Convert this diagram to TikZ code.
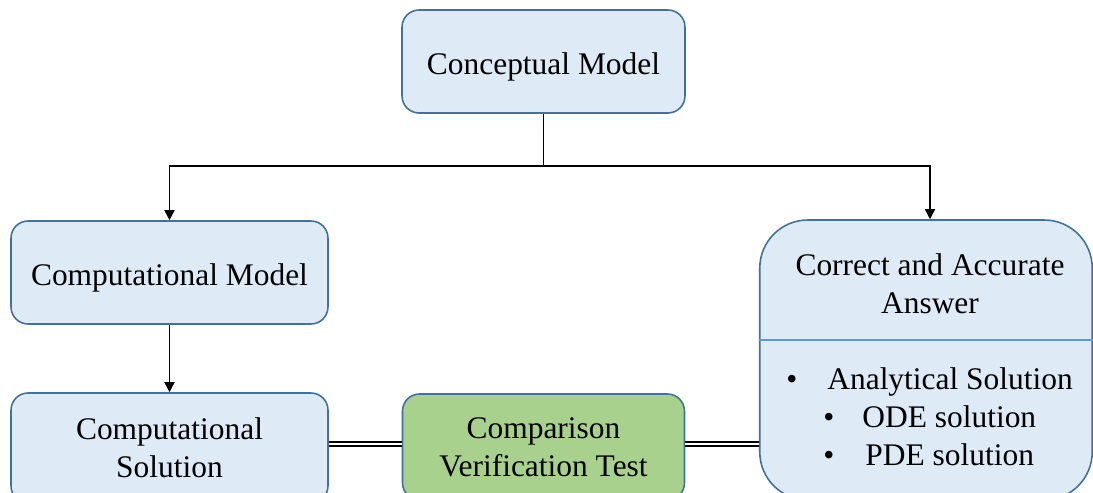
\documentclass[tikz,border=0pt]{standalone}
\usepackage{fontspec}
\setmainfont{Liberation Serif}
\usetikzlibrary{arrows.meta}
\definecolor{boxfill}{HTML}{DEEBF7}
\definecolor{boxline}{HTML}{41719C}
\definecolor{greenfill}{HTML}{A9D18E}
\definecolor{divline}{HTML}{5B9BD5}
\begin{document}
\begin{tikzpicture}[x=0.02cm,y=-0.02cm,
  box/.style={draw=boxline, line width=0.9pt, fill=boxfill, rounded corners=0.34cm,
    inner sep=0pt, align=center, font=\fontsize{17.9}{21.6}\selectfont},
  oneline/.style={text height=0.51cm, text depth=0cm},
  txt/.style={inner sep=0pt, font=\fontsize{17.9}{21.6}\selectfont},
  link/.style={line width=0.9pt},
  arr/.style={line width=0.9pt, -{Triangle[width=5.8pt,length=5.8pt]}},
  dbl/.style={draw=black, double=white, line width=1.1pt, double distance=1.4pt}]
\useasboundingbox (0,0) rectangle (1093,493);
\clip (0,0) rectangle (1093,493);

% boxes
\node[box, oneline, minimum width=5.66cm, minimum height=2.06cm] (concept) at (543.5,61.5) {Conceptual Model};
\node[box, oneline, minimum width=6.34cm, minimum height=2.06cm] (compmodel) at (169.5,272.5) {Computational Model};
\node[box, minimum width=6.34cm, minimum height=2.20cm] (compsol) at (169.5,448) {Computational\\Solution};
\node[box, fill=greenfill, minimum width=5.64cm, minimum height=2.12cm] (compare) at (543.5,447) {Comparison\\Verification Test};
\node[box, rounded corners=0.96cm, minimum width=6.65cm, minimum height=5.6cm] (answer) at (926,360) {};

% divider inside the answer box
\coordinate (divy) at (0,340);
\draw[divline, line width=0.6pt] (answer.west |- divy) -- (answer.east |- divy);

% answer box text
\node[txt, anchor=base] (hdr1) at (930,276) {Correct and Accurate};
\node[txt, anchor=base] (hdr2) at (930,313.7) {Answer};
\node[txt, anchor=base west] (b1) at (786,390) {•};
\node[txt, anchor=base west] (t1) at (827,390) {Analytical Solution};
\node[txt, anchor=base west] (b2) at (823,428) {•};
\node[txt, anchor=base west] (t2) at (862,428) {ODE solution};
\node[txt, anchor=base west] (b3) at (823,465) {•};
\node[txt, anchor=base west] (t3) at (865,465) {PDE solution};

% connectors
\coordinate (splity) at (0,166);
\coordinate (split) at (concept.south |- splity);
\draw[link] (concept.south) -- (split);
\draw[arr] (split) -| (compmodel.north);
\draw[arr] (split) -| ([xshift=0.08cm]answer.north);
\draw[arr] (compmodel.south) -- (compsol.north);
\coordinate (dl) at (0,444);
\draw[dbl] (compsol.east |- dl) -- (compare.west |- dl);
\draw[dbl] (compare.east |- dl) -- (answer.west |- dl);
\end{tikzpicture}
\end{document}
